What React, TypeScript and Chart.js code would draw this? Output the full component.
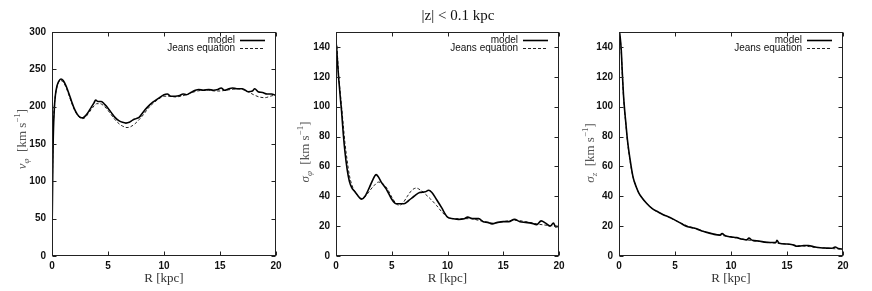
import React, { useEffect, useRef } from "react";
import { Chart, registerables } from "chart.js";
Chart.register(...registerables);

// ---------- data ----------
const R_TICK_STEP = 5;

// Panel 1: v_phi
const vR_model = [0, 0.05, 0.1, 0.2, 0.3, 0.45, 0.6, 0.8, 1.0, 1.25, 1.5, 1.75, 2.0, 2.25, 2.5, 2.75, 3.0, 3.25, 3.5, 3.75, 3.9, 4.1, 4.4, 4.7, 5.0, 5.3, 5.6, 6.0, 6.3, 6.6, 6.9, 7.2, 7.5, 7.8, 8.1, 8.5, 9.0, 9.5, 10.0, 10.3, 10.6, 11.0, 11.4, 11.7, 12.0, 12.4, 12.8, 13.1, 13.5, 14.0, 14.4, 14.8, 15.1, 15.4, 15.8, 16.1, 16.5, 17.0, 17.5, 17.9, 18.1, 18.4, 18.8, 19.2, 19.6, 20.0];
const v_model = [25, 90, 150, 195, 215, 228, 234, 237, 235, 228, 218, 207, 197, 190, 186, 185, 188, 193, 199, 205, 209, 207, 207, 203, 198, 192, 186, 181, 179, 178, 179, 182, 184, 186, 192, 199, 206, 211, 216, 217, 214, 214, 215, 217, 216, 219, 222, 223, 222, 223, 222, 223, 225, 222, 224, 225, 224, 224, 220, 221, 224, 220, 219, 217, 217, 215];
const vR_jeans = [0, 0.05, 0.1, 0.2, 0.3, 0.45, 0.6, 0.8, 1.0, 1.25, 1.5, 1.75, 2.0, 2.25, 2.5, 2.75, 3.0, 3.25, 3.5, 3.75, 4.0, 4.3, 4.7, 5.0, 5.3, 5.6, 6.0, 6.3, 6.7, 7.0, 7.4, 7.8, 8.2, 8.6, 9.0, 9.5, 10.0, 10.5, 11.0, 11.5, 12.0, 12.5, 13.0, 13.5, 14.0, 14.5, 15.0, 15.5, 16.0, 16.5, 17.0, 17.5, 18.0, 18.5, 19.0, 19.5, 20.0];
const v_jeans = [30, 110, 160, 200, 215, 227, 233, 235, 233, 226, 216, 205, 196, 189, 185, 184, 186, 191, 196, 201, 204, 204, 200, 195, 189, 183, 177, 174, 172, 173, 177, 183, 190, 198, 204, 210, 214, 214, 213, 214, 216, 219, 221, 222, 222, 221, 221, 222, 223, 224, 223, 220, 216, 213, 212, 214, 216];

// Panel 2: sigma_phi
const spR_model = [0, 0.05, 0.15, 0.25, 0.4, 0.5, 0.65, 0.8, 1.0, 1.2, 1.4, 1.7, 2.0, 2.3, 2.6, 3.0, 3.3, 3.6, 3.8, 4.1, 4.5, 5.0, 5.4, 5.8, 6.1, 6.5, 7.0, 7.5, 8.0, 8.3, 8.6, 9.0, 9.5, 9.8, 10.0, 10.5, 11.0, 11.5, 11.8, 12.3, 12.8, 13.2, 13.6, 14.0, 14.5, 15.0, 15.5, 16.0, 16.5, 17.0, 17.5, 18.0, 18.4, 18.8, 19.2, 19.5, 19.7, 20.0];
const sp_model = [143, 140, 128, 118, 105, 97, 82, 70, 58, 50, 46, 43, 40, 38, 40, 46, 51, 54.5, 53, 49, 45, 38, 35, 35, 35, 37, 40, 42.5, 43, 44, 42.5, 38, 32, 28, 26, 25, 24.5, 25, 26, 25, 25, 23, 22.5, 21.5, 22.5, 23, 23, 24.5, 23, 22.5, 22, 21, 23.5, 22, 20, 22, 19.5, 20];
const spR_jeans = [0, 0.05, 0.15, 0.25, 0.4, 0.5, 0.65, 0.8, 1.0, 1.2, 1.5, 1.8, 2.1, 2.4, 2.7, 3.0, 3.4, 3.8, 4.2, 4.6, 5.0, 5.4, 5.7, 6.0, 6.4, 6.8, 7.2, 7.6, 8.0, 8.5, 9.0, 9.5, 10.0, 10.5, 11.0, 12.0, 13.0, 14.0, 15.0, 16.0, 17.0, 18.0, 19.0, 20.0];
const sp_jeans = [130, 142, 132, 120, 108, 100, 88, 76, 64, 54, 46, 42, 39, 38.5, 40.5, 43.5, 47, 49.5, 48.5, 45, 39.5, 35, 34, 35.5, 40, 44, 45.5, 44, 41.5, 38, 34, 29.5, 26, 25, 25, 25, 23.5, 22, 23, 24, 23, 21.5, 20.5, 20];

// Panel 3: sigma_z
const szR_model = [0, 0.1, 0.2, 0.3, 0.4, 0.5, 0.6, 0.75, 1.0, 1.25, 1.5, 1.75, 2.0, 2.5, 3.0, 3.5, 4.0, 4.5, 5.0, 5.5, 6.0, 6.5, 7.0, 7.5, 8.0, 8.5, 9.0, 9.2, 9.5, 10.0, 10.5, 11.0, 11.4, 11.6, 11.9, 12.5, 13.0, 13.5, 14.0, 14.1, 14.3, 15.0, 15.5, 15.9, 16.5, 16.9, 17.5, 18.0, 18.5, 19.0, 19.3, 19.6, 20.0];
const sz_model = [152, 147, 138, 122, 108, 98, 90, 78, 64, 53, 47, 42.5, 39.5, 35, 31.5, 29.5, 27.5, 26, 24, 22, 20, 19, 18, 16.5, 15.5, 14.5, 14, 15, 13.5, 12.8, 12.3, 11.3, 10.8, 12, 10.5, 10, 9.3, 9, 9, 10.5, 8.5, 8, 7.5, 6.5, 7, 7, 6, 5.5, 5.3, 5.2, 6, 5, 4.5];
const szR_jeans = [0, 0.1, 0.2, 0.3, 0.4, 0.5, 0.6, 0.75, 1.0, 1.25, 1.5, 1.75, 2.0, 2.5, 3.0, 4.0, 5.0, 6.0, 7.0, 8.0, 9.0, 10.0, 11.0, 12.0, 13.0, 14.0, 15.0, 16.0, 17.0, 18.0, 19.0, 20.0];
const sz_jeans = [150, 146, 137, 121, 107, 97, 89, 77, 63, 53, 47, 42.5, 39.5, 35, 31.5, 27.5, 24, 20.5, 18, 15.5, 14, 12.8, 11.3, 10.2, 9.3, 8.6, 8, 7, 6.3, 5.6, 5, 4.5];

const SERIES_LABELS = ["model", "Jeans equation"];
const TITLE = "|z| < 0.1 kpc";

// ---------- helpers ----------
type Part = { t: string; it?: boolean; sub?: boolean; sup?: boolean };
const SERIF = '"Liberation Serif", "DejaVu Serif", serif';
const SANS = '"Liberation Sans", Arial, sans-serif';

function drawRich(ctx: CanvasRenderingContext2D, parts: Part[], cx: number, cy: number, rotate: boolean, size: number, color: string) {
  ctx.save();
  ctx.translate(cx, cy);
  if (rotate) ctx.rotate(-Math.PI / 2);
  const fontFor = (p: Part) => `${p.it ? "italic " : ""}${p.sub || p.sup ? Math.round(size * 0.7) : size}px ${SERIF}`;
  let total = 0;
  parts.forEach((p) => { ctx.font = fontFor(p); total += ctx.measureText(p.t).width; });
  let x = -total / 2;
  ctx.fillStyle = color;
  ctx.textBaseline = "alphabetic";
  ctx.textAlign = "left";
  const baseY = size * 0.35;
  parts.forEach((p) => {
    ctx.font = fontFor(p);
    const dy = p.sub ? size * 0.25 : p.sup ? -size * 0.4 : 0;
    ctx.fillText(p.t, x, baseY + dy);
    x += ctx.measureText(p.t).width;
  });
  ctx.restore();
}

type PanelCfg = {
  left: number; width: number; yw: number; rightPad: number;
  yMax: number; yStep: number;
  rm: number[]; ym: number[]; rj: number[]; yj: number[];
  yTitle: Part[]; yTitleX: number; yTitleY: number;
  title?: { text: string; x: number; y: number };
};

const kms: Part[] = [{ t: "  [km s" }, { t: "−1", sup: true }, { t: "]" }];

const PANELS: PanelCfg[] = [
  { left: 0, width: 290, yw: 52, rightPad: 14, yMax: 300, yStep: 50, rm: vR_model, ym: v_model, rj: vR_jeans, yj: v_jeans,
    yTitle: [{ t: "v", it: true }, { t: "φ", sub: true, it: true }, ...kms], yTitleX: 21, yTitleY: 139 },
  { left: 290, width: 290, yw: 46, rightPad: 21, yMax: 150, yStep: 20, rm: spR_model, ym: sp_model, rj: spR_jeans, yj: sp_jeans,
    yTitle: [{ t: "σ", it: true }, { t: "φ", sub: true, it: true }, ...kms], yTitleX: 14, yTitleY: 152,
    title: { text: TITLE, x: 168, y: 16 } },
  { left: 580, width: 292, yw: 39, rightPad: 29, yMax: 150, yStep: 20, rm: szR_model, ym: sz_model, rj: szR_jeans, yj: sz_jeans,
    yTitle: [{ t: "σ", it: true }, { t: "z", sub: true, it: true }, ...kms], yTitleX: 9, yTitleY: 153 },
];

const MODEL_DASH: number[] = [];
const JEANS_DASH = [3, 2];

function Panel({ cfg }: { cfg: PanelCfg }) {
  const ref = useRef<HTMLCanvasElement>(null);
  useEffect(() => {
    const canvas = ref.current!;
    const frame = {
      id: "gnuplotFrame",
      afterDraw(chart: any) {
        const { ctx, chartArea: a, scales } = chart;
        const xs = scales.x, ys = scales.y;
        ctx.save();
        ctx.strokeStyle = "#222";
        ctx.lineWidth = 1;
        ctx.setLineDash([]);
        const L = Math.round(a.left) + 0.5, R = Math.round(a.right) - 0.5, T = Math.round(a.top) + 0.5, B = Math.round(a.bottom) - 0.5;
        ctx.strokeRect(L, T, R - L, B - T);
        ctx.beginPath();
        xs.ticks.forEach((t: any) => {
          const px = Math.round(xs.getPixelForValue(t.value)) + 0.5;
          ctx.moveTo(px, B); ctx.lineTo(px, B - 4);
          ctx.moveTo(px, T); ctx.lineTo(px, T + 4);
        });
        ys.ticks.forEach((t: any) => {
          const py = Math.round(ys.getPixelForValue(t.value)) + 0.5;
          ctx.moveTo(L, py); ctx.lineTo(L + 4, py);
          ctx.moveTo(R, py); ctx.lineTo(R - 4, py);
        });
        ctx.stroke();

        // legend inside, top right
        const rows = [40, 48];
        chart.data.datasets.forEach((ds: any, i: number) => {
          const y = rows[i];
          ctx.font = `10px ${SANS}`;
          ctx.fillStyle = "#111";
          ctx.textAlign = "right";
          ctx.textBaseline = "middle";
          ctx.fillText(ds.label, a.right - 41, y);
          ctx.beginPath();
          ctx.strokeStyle = ds.borderColor;
          ctx.lineWidth = ds.borderWidth;
          ctx.setLineDash(ds.borderDash || []);
          ctx.moveTo(a.right - 36, y + 0.5);
          ctx.lineTo(a.right - 11, y + 0.5);
          ctx.stroke();
          ctx.setLineDash([]);
        });

        // axis titles
        drawRich(ctx, [{ t: "R" }, { t: " [kpc]" }], (a.left + a.right) / 2, 277, false, 13, "#333");
        drawRich(ctx, cfg.yTitle, cfg.yTitleX, cfg.yTitleY, true, 13, "#555");
        if (cfg.title) {
          ctx.font = `15px ${SERIF}`;
          ctx.fillStyle = "#111";
          ctx.textAlign = "center";
          ctx.textBaseline = "middle";
          ctx.fillText(cfg.title.text, cfg.title.x, cfg.title.y);
        }
        ctx.restore();
      },
    };
    const chart = new Chart(canvas, {
      type: "line",
      data: {
        datasets: [
          { label: SERIES_LABELS[0], data: cfg.rm.map((x, i) => ({ x, y: cfg.ym[i] })), borderColor: "#000", borderWidth: 1.6, borderDash: MODEL_DASH, pointRadius: 0, cubicInterpolationMode: "monotone", fill: false },
          { label: SERIES_LABELS[1], data: cfg.rj.map((x, i) => ({ x, y: cfg.yj[i] })), borderColor: "#222", borderWidth: 1, borderDash: JEANS_DASH, pointRadius: 0, cubicInterpolationMode: "monotone", fill: false },
        ],
      },
      options: {
        responsive: false,
        animation: false,
        devicePixelRatio: 1,
        layout: { padding: { left: 0, top: 32, right: cfg.rightPad, bottom: 0 } },
        plugins: { legend: { display: false }, tooltip: { enabled: false }, title: { display: false } },
        scales: {
          x: {
            type: "linear", min: 0, max: 20,
            grid: { display: false, drawTicks: false }, border: { display: false },
            ticks: { stepSize: R_TICK_STEP, padding: 4, maxRotation: 0, autoSkip: false, color: "#111", font: { family: SANS, size: 10, weight: "bold" } },
            afterFit: (s: any) => { s.height = 35; },
          },
          y: {
            type: "linear", min: 0, max: cfg.yMax,
            grid: { display: false, drawTicks: false }, border: { display: false },
            ticks: { stepSize: cfg.yStep, padding: 6, autoSkip: false, color: "#111", font: { family: SANS, size: 10, weight: "bold" },
              callback: (v: any) => (v % cfg.yStep === 0 ? String(v) : "") },
            afterFit: (s: any) => { s.width = cfg.yw; },
          },
        },
      } as any,
      plugins: [frame],
    });
    return () => chart.destroy();
  }, []);
  return <canvas ref={ref} width={cfg.width} height={291} style={{ position: "absolute", left: cfg.left, top: 0, width: cfg.width, height: 291 }} />;
}

export default function App() {
  return (
    <div style={{ position: "absolute", left: 0, top: 0, width: 872, height: 291, background: "#fff", overflow: "hidden" }}>
      {PANELS.map((p, i) => <Panel key={i} cfg={p} />)}
    </div>
  );
}
